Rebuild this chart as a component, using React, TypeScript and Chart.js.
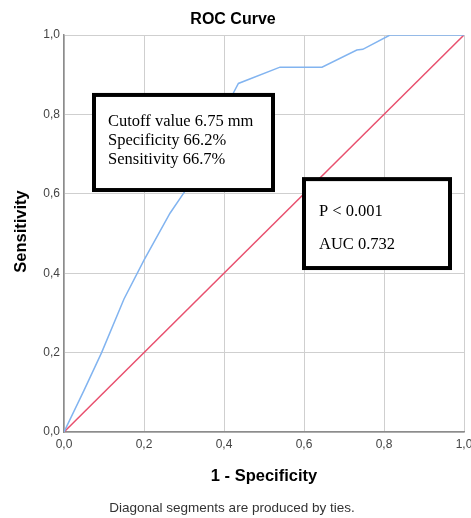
import React, { useEffect, useRef } from "react";
import { Chart, registerables } from "chart.js";

Chart.register(...registerables);

const rocFpr = [0, 0.05, 0.094, 0.15, 0.2, 0.265, 0.3, 0.338, 0.425, 0.436, 0.54, 0.645, 0.732, 0.747, 0.815, 1.0];
const rocTpr = [0, 0.105, 0.2, 0.335, 0.433, 0.551, 0.603, 0.667, 0.857, 0.878, 0.919, 0.919, 0.962, 0.964, 1.0, 1.0];
const refX = [0, 1];
const refY = [0, 1];
const tickValues = [0, 0.2, 0.4, 0.6, 0.8, 1.0];

const chartTitle = "ROC Curve";
const xTitle = "1 - Specificity";
const yTitle = "Sensitivity";
const footerText = "Diagonal segments are produced by ties.";
const box1Lines = ["Cutoff value 6.75 mm", "Specificity 66.2%", "Sensitivity 66.7%"];
const box2Lines = ["P < 0.001", "AUC 0.732"];

const W = 471;
const H = 518;

const overlayPlugin = {
  id: "overlay",
  afterDraw(chart: any) {
    const ctx = chart.ctx as CanvasRenderingContext2D;
    const xs = chart.scales.x;
    const ys = chart.scales.y;
    const ca = chart.chartArea;
    ctx.save();
    // title
    ctx.fillStyle = "#000";
    ctx.textAlign = "center";
    ctx.textBaseline = "middle";
    ctx.font = "bold 16px 'Liberation Sans', Arial, sans-serif";
    ctx.fillText(chartTitle, 233, 20);
    // x title
    ctx.font = "bold 16.5px 'Liberation Sans', Arial, sans-serif";
    ctx.fillText(xTitle, (ca.left + ca.right) / 2, 476);
    // y title
    ctx.save();
    ctx.translate(21, (ca.top + ca.bottom) / 2 - 2);
    ctx.rotate(-Math.PI / 2);
    ctx.fillText(yTitle, 0, 0);
    ctx.restore();
    // footer
    ctx.font = "13.5px 'Liberation Sans', Arial, sans-serif";
    ctx.fillStyle = "#333";
    ctx.fillText(footerText, 232, 508);

    // boxes
    const drawBox = (x0: number, y0: number, x1: number, y1: number) => {
      const l = xs.getPixelForValue(x0);
      const r = xs.getPixelForValue(x1);
      const t = ys.getPixelForValue(y0);
      const b = ys.getPixelForValue(y1);
      ctx.fillStyle = "#fff";
      ctx.fillRect(l, t, r - l, b - t);
      ctx.strokeStyle = "#000";
      ctx.lineWidth = 4;
      ctx.strokeRect(l, t, r - l, b - t);
      return { l, t, r, b };
    };
    const b1 = drawBox(0.075, 0.849, 0.5225, 0.6095);
    ctx.fillStyle = "#000";
    ctx.textAlign = "left";
    ctx.textBaseline = "alphabetic";
    ctx.font = "16.5px 'Liberation Serif', 'Times New Roman', serif";
    box1Lines.forEach((s, i) => ctx.fillText(s, b1.l + 14, b1.t + 31 + i * 19.2));
    const b2 = drawBox(0.6, 0.637, 0.965, 0.413);
    ctx.fillStyle = "#000";
    box2Lines.forEach((s, i) => ctx.fillText(s, b2.l + 15, b2.t + 37 + i * 33));
    ctx.restore();
  },
};

export default function App() {
  const ref = useRef<HTMLCanvasElement | null>(null);
  useEffect(() => {
    document.body.style.margin = "0";
    if (!ref.current) return;
    const chart = new Chart(ref.current, {
      type: "scatter",
      data: {
        datasets: [
          {
            label: "ROC",
            data: rocFpr.map((x, i) => ({ x, y: rocTpr[i] })),
            showLine: true,
            borderColor: "rgb(130,180,240)",
            borderWidth: 1.5,
            pointRadius: 0,
            fill: false,
            tension: 0,
          },
          {
            label: "Reference",
            data: refX.map((x, i) => ({ x, y: refY[i] })),
            showLine: true,
            borderColor: "rgb(232,80,110)",
            borderWidth: 1.5,
            pointRadius: 0,
            fill: false,
          },
        ],
      },
      options: {
        animation: false,
        responsive: false,
        devicePixelRatio: 1,
        layout: { padding: { top: 35, right: 7, bottom: 0, left: 0 } },
        plugins: { legend: { display: false }, title: { display: false }, tooltip: { enabled: false } },
        scales: {
          x: {
            type: "linear",
            min: 0,
            max: 1,
            afterBuildTicks: (s: any) => {
              s.ticks = tickValues.map((v) => ({ value: v }));
            },
            afterFit: (s: any) => {
              s.height = 86;
              s.paddingLeft = 0;
              s.paddingRight = 0;
            },
            grid: { color: "#cfcfcf", lineWidth: 1, drawTicks: false },
            border: { color: "#8c8c8c", width: 1.5 },
            ticks: {
              padding: 5,
              color: "#444",
              font: { family: "'Liberation Sans', Arial, sans-serif", size: 12 },
              maxRotation: 0,
              callback: (v: any) => Number(v).toFixed(1).replace(".", ","),
            },
          },
          y: {
            type: "linear",
            min: 0,
            max: 1,
            afterBuildTicks: (s: any) => {
              s.ticks = tickValues.map((v) => ({ value: v }));
            },
            afterFit: (s: any) => {
              s.width = 64;
              s.paddingTop = 0;
              s.paddingBottom = 0;
            },
            grid: { color: "#cfcfcf", lineWidth: 1, drawTicks: false },
            border: { color: "#8c8c8c", width: 1.5 },
            ticks: {
              padding: 4,
              color: "#444",
              font: { family: "'Liberation Sans', Arial, sans-serif", size: 12 },
              callback: (v: any) => Number(v).toFixed(1).replace(".", ","),
            },
          },
        },
      },
      plugins: [overlayPlugin],
    } as any);
    return () => chart.destroy();
  }, []);
  return (
    <div style={{ position: "absolute", left: 0, top: 0, width: W, height: H, background: "#fff" }}>
      <canvas ref={ref} width={W} height={H} style={{ width: W, height: H, display: "block" }} />
    </div>
  );
}
